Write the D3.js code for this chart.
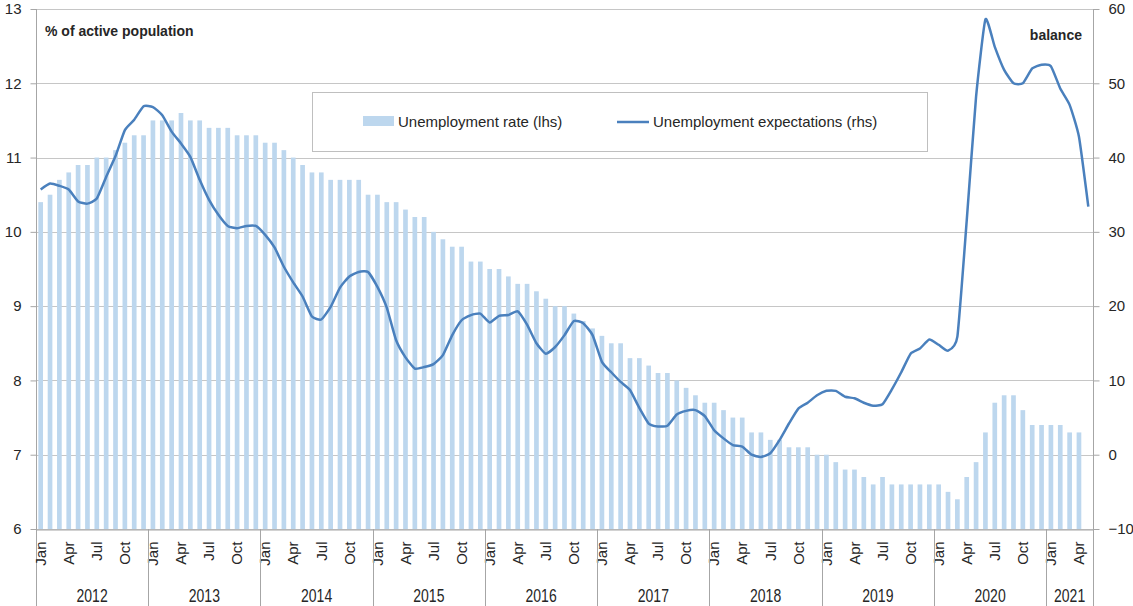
<!DOCTYPE html>
<html>
<head>
<meta charset="utf-8">
<script src="https://cdn.jsdelivr.net/npm/d3@7"></script>
<style>
  body { margin: 0; background: #fff; }
  svg { display: block; font-family: "Liberation Sans", Arial, sans-serif; }
</style>
</head>
<body>
<svg id="chart"></svg>
<script>
// months shown per year (2021 runs to May)
const years = [2012, 2013, 2014, 2015, 2016, 2017, 2018, 2019, 2020, 2021];
const monthsPerYear = [12, 12, 12, 12, 12, 12, 12, 12, 12, 5];
const monthNames = ["Jan", "Feb", "Mar", "Apr", "May", "Jun", "Jul", "Aug", "Sep", "Oct", "Nov", "Dec"];

// unemployment rate, % of active population (lhs), Jan 2012 - Apr 2021
const unemploymentRate = [
  10.4, 10.5, 10.7, 10.8, 10.9, 10.9, 11.0, 11.0, 11.1, 11.2, 11.3, 11.3,
  11.5, 11.5, 11.5, 11.6, 11.5, 11.5, 11.4, 11.4, 11.4, 11.3, 11.3, 11.3,
  11.2, 11.2, 11.1, 11.0, 10.9, 10.8, 10.8, 10.7, 10.7, 10.7, 10.7, 10.5,
  10.5, 10.4, 10.4, 10.3, 10.2, 10.2, 10.0, 9.9, 9.8, 9.8, 9.6, 9.6,
  9.5, 9.5, 9.4, 9.3, 9.3, 9.2, 9.1, 9.0, 9.0, 8.9, 8.8, 8.7,
  8.6, 8.5, 8.5, 8.3, 8.3, 8.2, 8.1, 8.1, 8.0, 7.9, 7.8, 7.7,
  7.7, 7.6, 7.5, 7.5, 7.3, 7.3, 7.2, 7.2, 7.1, 7.1, 7.1, 7.0,
  7.0, 6.9, 6.8, 6.8, 6.7, 6.6, 6.7, 6.6, 6.6, 6.6, 6.6, 6.6,
  6.6, 6.5, 6.4, 6.7, 6.9, 7.3, 7.7, 7.8, 7.8, 7.6, 7.4, 7.4,
  7.4, 7.4, 7.3, 7.3
];

// unemployment expectations, balance (rhs), Jan 2012 - May 2021
const expectations = [
  35.7, 36.5, 36.2, 35.7, 34.1, 33.8, 34.5, 37.4, 40.2, 43.7, 45.1, 46.9,
  46.8, 45.7, 43.5, 41.9, 40.1, 37.0, 34.3, 32.3, 30.8, 30.5, 30.8, 30.8,
  29.6, 27.9, 25.3, 23.2, 21.3, 18.6, 18.2, 19.9, 22.5, 24.0, 24.6, 24.6,
  22.6, 19.8, 15.4, 13.1, 11.6, 11.8, 12.2, 13.4, 16.1, 18.1, 18.8, 19.0,
  17.8, 18.7, 18.8, 19.3, 17.5, 15.0, 13.6, 14.5, 16.1, 18.0, 17.7, 16.1,
  12.5, 11.1, 9.8, 8.7, 6.3, 4.2, 3.8, 3.9, 5.4, 5.9, 6.0, 5.2,
  3.3, 2.2, 1.3, 1.1, 0.0, -0.3, 0.2, 2.0, 4.2, 6.2, 7.0, 8.0,
  8.6, 8.6, 7.8, 7.6, 7.0, 6.6, 6.8, 8.8, 11.1, 13.6, 14.3, 15.5,
  14.8, 14.0, 15.9, 31.5, 48.2, 58.6, 54.9, 51.8, 50.0, 50.0, 52.0, 52.5,
  52.3, 49.3, 47.1, 42.8, 33.4
];

const leftTicks = [6, 7, 8, 9, 10, 11, 12, 13];
const rightTicks = [-10, 0, 10, 20, 30, 40, 50, 60];

const width = 1133;
const height = 606;
const plot = { left: 36, right: 1093, top: 9, bottom: 529 };

const months = [];
years.forEach((yr, yi) => {
  for (let m = 0; m < monthsPerYear[yi]; m++) {
    months.push({ key: `${yr}-${m}`, year: yr, month: m, label: monthNames[m] });
  }
});

const svg = d3.select("#chart").attr("width", width).attr("height", height);

const x = d3.scaleBand()
  .domain(months.map((d) => d.key))
  .range([plot.left, plot.right])
  .padding(0);
const yL = d3.scaleLinear().domain([6, 13]).range([plot.bottom, plot.top]);
const yR = d3.scaleLinear().domain([-10, 60]).range([plot.bottom, plot.top]);

const gridColor = "#c6c6c6";
const axisColor = "#a6a6a6";
const textColor = "#262626";

// gridlines
svg.append("g")
  .selectAll("line")
  .data(leftTicks)
  .join("line")
  .attr("x1", plot.left)
  .attr("x2", plot.right)
  .attr("y1", (d) => Math.round(yL(d)) + 0.5)
  .attr("y2", (d) => Math.round(yL(d)) + 0.5)
  .attr("stroke", gridColor)
  .attr("stroke-width", 1);

// bars
const barW = x.bandwidth() * 0.5;
svg.append("g")
  .selectAll("rect")
  .data(unemploymentRate)
  .join("rect")
  .attr("x", (d, i) => x(months[i].key) + (x.bandwidth() - barW) / 2)
  .attr("width", barW)
  .attr("y", (d) => yL(d))
  .attr("height", (d) => yL(6) - yL(d))
  .attr("fill", "#bdd7ee");

// line
const line = d3.line()
  .x((d, i) => x(months[i].key) + x.bandwidth() / 2)
  .y((d) => yR(d))
  .curve(d3.curveCardinal.tension(0.5));

svg.append("path")
  .datum(expectations)
  .attr("d", line)
  .attr("fill", "none")
  .attr("stroke", "#4a80bd")
  .attr("stroke-width", 2.5)
  .attr("stroke-linejoin", "round");

// left axis
const axL = svg.append("g")
  .attr("transform", `translate(${plot.left + 0.5},0)`)
  .call(d3.axisLeft(yL).tickValues(leftTicks).tickFormat(d3.format("d")).tickSize(6).tickPadding(9));
axL.select(".domain").remove();
axL.selectAll("line").attr("stroke", axisColor);
axL.selectAll("text").attr("fill", textColor).style("font-size", "15px");

// right axis
const axR = svg.append("g")
  .attr("transform", `translate(${plot.right + 0.5},0)`)
  .call(d3.axisRight(yR).tickValues(rightTicks).tickFormat(d3.format("d")).tickSize(6).tickPadding(9));
axR.select(".domain").remove();
axR.selectAll("line").attr("stroke", axisColor);
axR.selectAll("text").attr("fill", textColor).style("font-size", "15px");

// vertical frame lines (extend through the category axis)
svg.append("g")
  .selectAll("line")
  .data([plot.left, plot.right])
  .join("line")
  .attr("x1", (d) => d + 0.5)
  .attr("x2", (d) => d + 0.5)
  .attr("y1", plot.top)
  .attr("y2", height)
  .attr("stroke", axisColor);

// bottom axis: month labels
const monthTicks = months.filter((d) => d.month % 3 === 0).map((d) => d.key);
const axB = svg.append("g")
  .attr("transform", `translate(0,${plot.bottom + 0.5})`)
  .call(d3.axisBottom(x).tickValues(monthTicks).tickSize(0)
    .tickFormat((k) => months.find((d) => d.key === k).label));
axB.select(".domain").attr("stroke", axisColor);
axB.selectAll("text")
  .attr("transform", "rotate(-90)")
  .attr("x", -12)
  .attr("y", 0)
  .attr("dy", "0.35em")
  .attr("text-anchor", "end")
  .attr("fill", textColor)
  .style("font-size", "15px");

// year groups
const yearSpans = years.map((yr) => {
  const ms = months.filter((d) => d.year === yr);
  return {
    year: yr,
    x0: x(ms[0].key),
    x1: x(ms[ms.length - 1].key) + x.bandwidth()
  };
});

svg.append("g")
  .selectAll("line")
  .data(yearSpans.slice(1))
  .join("line")
  .attr("x1", (d) => Math.round(d.x0) + 0.5)
  .attr("x2", (d) => Math.round(d.x0) + 0.5)
  .attr("y1", plot.bottom)
  .attr("y2", height)
  .attr("stroke", axisColor);

svg.append("g")
  .selectAll("text")
  .data(yearSpans)
  .join("text")
  .attr("transform", (d) => `translate(${(d.x0 + d.x1) / 2},602) scale(1,1.3)`)
  .attr("text-anchor", "middle")
  .attr("fill", textColor)
  .style("font-size", "14px")
  .text((d) => d.year);

// axis titles
svg.append("text")
  .attr("x", 45).attr("y", 36)
  .attr("fill", textColor)
  .style("font-size", "14px").style("font-weight", "bold")
  .text("% of active population");
svg.append("text")
  .attr("x", 1082).attr("y", 40)
  .attr("text-anchor", "end")
  .attr("fill", textColor)
  .style("font-size", "14px").style("font-weight", "bold")
  .text("balance");

// legend
const legend = svg.append("g");
legend.append("rect")
  .attr("x", 312.5).attr("y", 92.5)
  .attr("width", 615).attr("height", 59)
  .attr("fill", "#fff")
  .attr("stroke", "#bfbfbf");
legend.append("rect")
  .attr("x", 363).attr("y", 116)
  .attr("width", 31).attr("height", 10)
  .attr("fill", "#bdd7ee");
legend.append("text")
  .attr("x", 398).attr("y", 127)
  .attr("fill", textColor)
  .style("font-size", "15px")
  .text("Unemployment rate (lhs)");
legend.append("line")
  .attr("x1", 617).attr("x2", 649)
  .attr("y1", 122).attr("y2", 122)
  .attr("stroke", "#4a80bd")
  .attr("stroke-width", 2.5);
legend.append("text")
  .attr("x", 653).attr("y", 127)
  .attr("fill", textColor)
  .style("font-size", "15px")
  .text("Unemployment expectations (rhs)");
</script>
</body>
</html>
